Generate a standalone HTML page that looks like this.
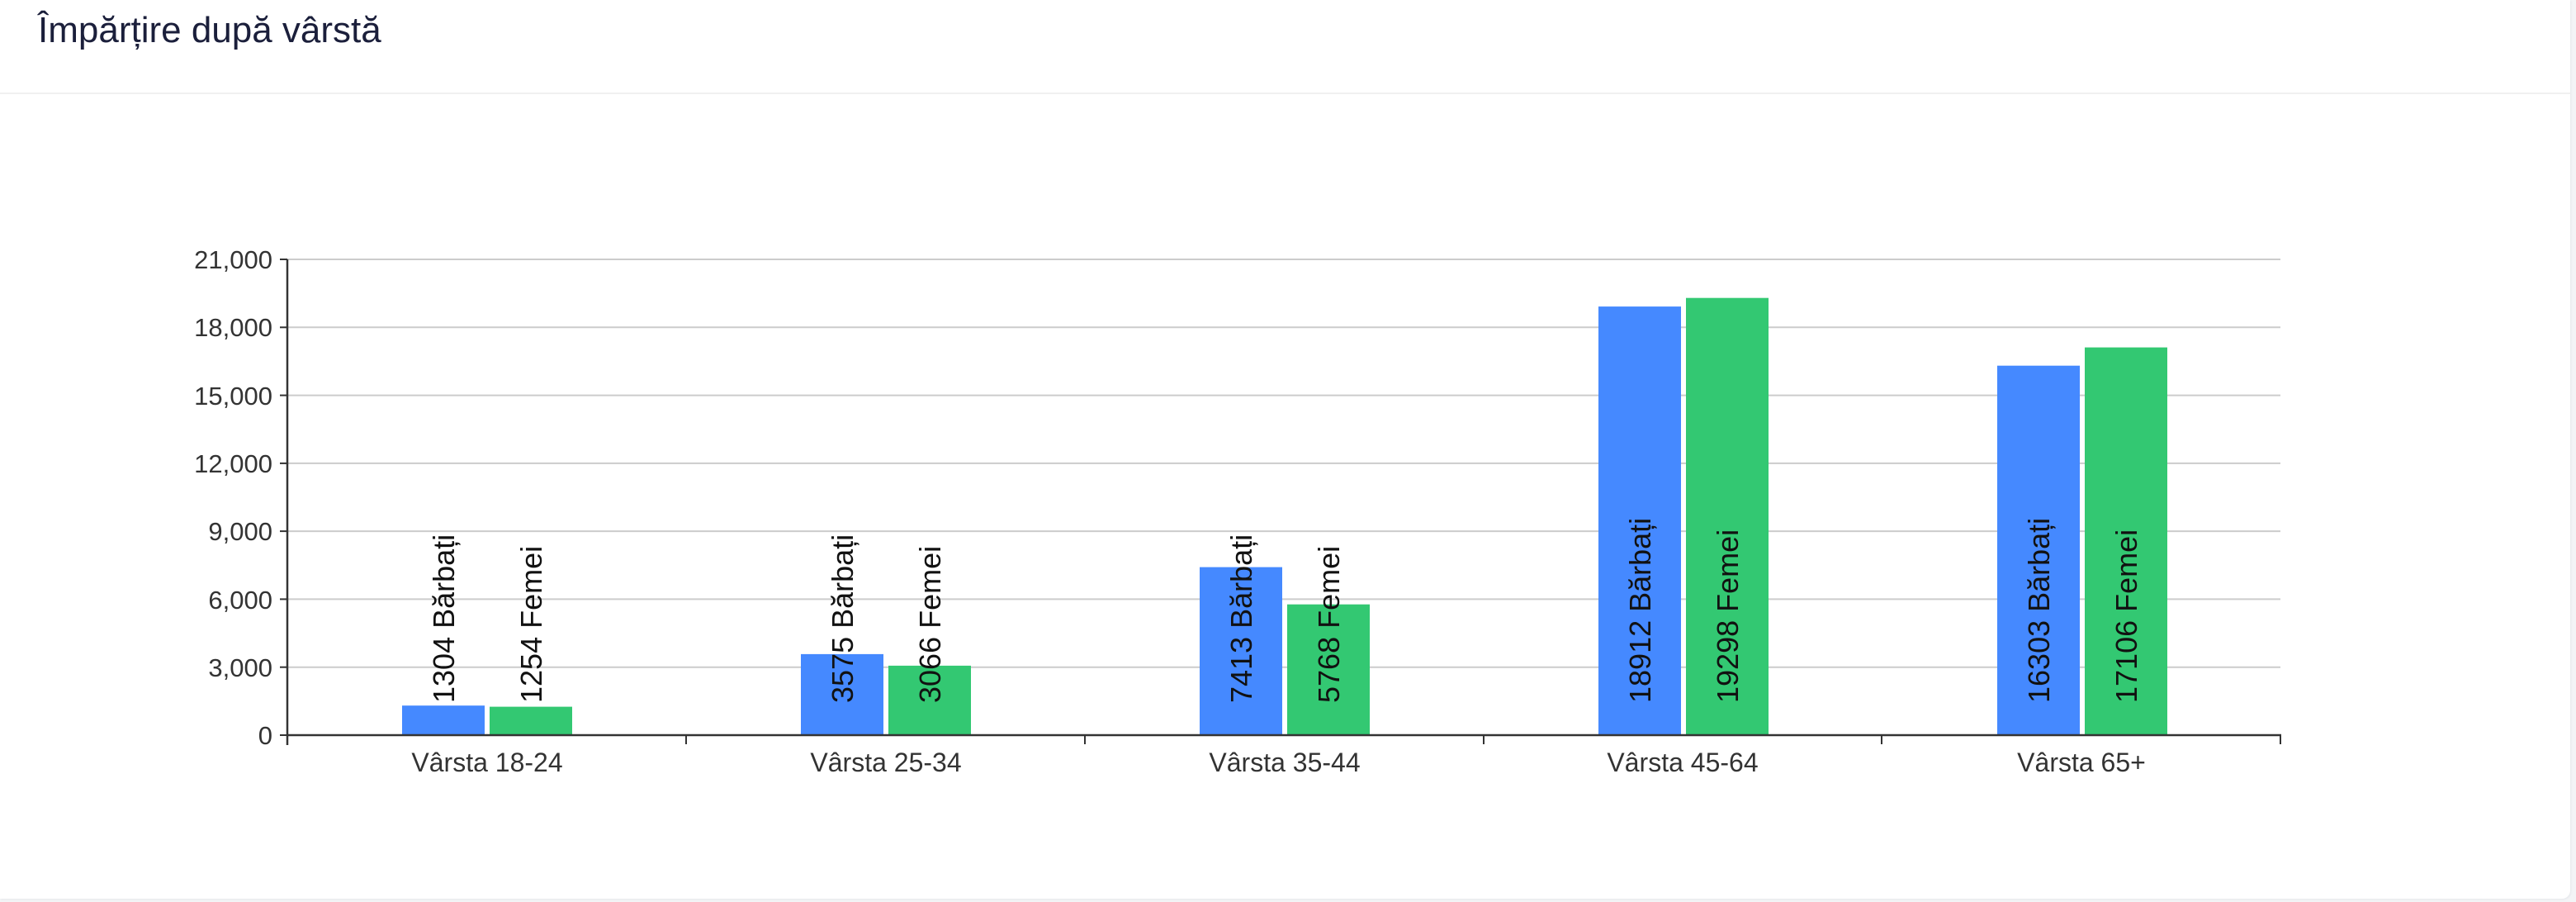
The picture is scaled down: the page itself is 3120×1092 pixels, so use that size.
<!DOCTYPE html>
<html><head><meta charset="utf-8"><style>
html,body{margin:0;padding:0;background:#f3f4f6;width:3120px;height:1092px;overflow:hidden}
.card{position:absolute;left:0;top:0;width:3113px;height:1088px;background:#fff;border-bottom-right-radius:10px;box-shadow:1px 1px 2px #e5e7eb}
svg{position:absolute;left:0;top:0}
</style></head><body>
<div class="card"></div>
<svg width="3120" height="1092" xmlns="http://www.w3.org/2000/svg" font-family="Liberation Sans, DejaVu Sans, sans-serif">
<text x="46" y="51" font-size="44" fill="#1b1f3b">Împărțire după vârstă</text>
<rect x="0" y="112" width="3113" height="2" fill="#f0f0f0"/>
<g stroke="#cccccc" stroke-width="2">
<line x1="348" x2="2762" y1="314" y2="314"/>
<line x1="348" x2="2762" y1="396.3" y2="396.3"/>
<line x1="348" x2="2762" y1="478.6" y2="478.6"/>
<line x1="348" x2="2762" y1="560.9" y2="560.9"/>
<line x1="348" x2="2762" y1="643.1" y2="643.1"/>
<line x1="348" x2="2762" y1="725.4" y2="725.4"/>
<line x1="348" x2="2762" y1="807.7" y2="807.7"/>
</g>
<g font-size="31" fill="#333" text-anchor="end">
<text x="330" y="325">21,000</text>
<text x="330" y="407">18,000</text>
<text x="330" y="490">15,000</text>
<text x="330" y="572">12,000</text>
<text x="330" y="654">9,000</text>
<text x="330" y="737">6,000</text>
<text x="330" y="819">3,000</text>
<text x="330" y="901">0</text>
</g>
<g stroke="#333" stroke-width="2">
<line x1="339" x2="348" y1="314" y2="314"/><line x1="339" x2="348" y1="396.3" y2="396.3"/>
<line x1="339" x2="348" y1="478.6" y2="478.6"/><line x1="339" x2="348" y1="560.9" y2="560.9"/>
<line x1="339" x2="348" y1="643.1" y2="643.1"/><line x1="339" x2="348" y1="725.4" y2="725.4"/>
<line x1="339" x2="348" y1="807.7" y2="807.7"/><line x1="339" x2="348" y1="890" y2="890"/>
</g>
<g>
<rect x="487" y="854.2" width="100" height="35.8" fill="#4589ff"/>
<rect x="593" y="855.6" width="100" height="34.4" fill="#33c872"/>
<rect x="970" y="791.9" width="100" height="98.1" fill="#4589ff"/>
<rect x="1076" y="805.9" width="100" height="84.1" fill="#33c872"/>
<rect x="1453" y="686.6" width="100" height="203.4" fill="#4589ff"/>
<rect x="1559" y="731.7" width="100" height="158.3" fill="#33c872"/>
<rect x="1936" y="371.1" width="100" height="518.9" fill="#4589ff"/>
<rect x="2042" y="360.7" width="100" height="529.3" fill="#33c872"/>
<rect x="2419" y="442.7" width="100" height="447.3" fill="#4589ff"/>
<rect x="2525" y="420.6" width="100" height="469.4" fill="#33c872"/>
</g>
<g font-size="36" fill="#111">
<text transform="translate(550,851) rotate(-90)">1304 Bărbați</text>
<text transform="translate(656,851) rotate(-90)">1254 Femei</text>
<text transform="translate(1033,851) rotate(-90)">3575 Bărbați</text>
<text transform="translate(1139,851) rotate(-90)">3066 Femei</text>
<text transform="translate(1516,851) rotate(-90)">7413 Bărbați</text>
<text transform="translate(1622,851) rotate(-90)">5768 Femei</text>
<text transform="translate(1999,851) rotate(-90)">18912 Bărbați</text>
<text transform="translate(2105,851) rotate(-90)">19298 Femei</text>
<text transform="translate(2482,851) rotate(-90)">16303 Bărbați</text>
<text transform="translate(2588,851) rotate(-90)">17106 Femei</text>
</g>
<g stroke="#333" stroke-width="2.5">
<line x1="348" x2="348" y1="314" y2="902"/>
<line x1="347" x2="2763" y1="890" y2="890"/>
</g>
<g stroke="#333" stroke-width="2">
<line x1="831" x2="831" y1="890" y2="901"/>
<line x1="1314" x2="1314" y1="890" y2="901"/>
<line x1="1797" x2="1797" y1="890" y2="901"/>
<line x1="2279" x2="2279" y1="890" y2="901"/>
<line x1="2762" x2="2762" y1="890" y2="901"/>
</g>
<g font-size="32" fill="#333" text-anchor="middle">
<text x="590" y="934">Vârsta 18-24</text>
<text x="1073" y="934">Vârsta 25-34</text>
<text x="1556" y="934">Vârsta 35-44</text>
<text x="2038" y="934">Vârsta 45-64</text>
<text x="2521" y="934">Vârsta 65+</text>
</g>
</svg>
</body></html>
